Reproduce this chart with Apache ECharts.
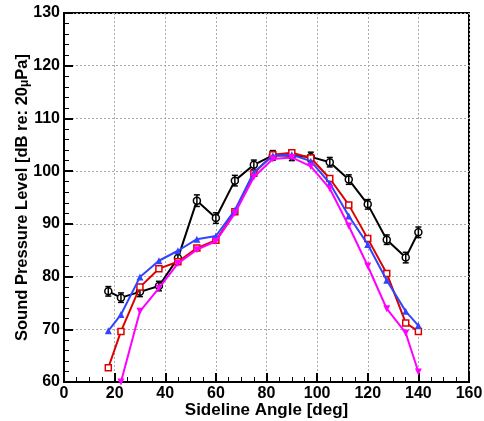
<!DOCTYPE html>
<html>
<head>
<meta charset="utf-8">
<script src="https://cdn.jsdelivr.net/npm/echarts@6/dist/echarts.min.js"></script>
<style>html,body{margin:0;padding:0;background:#fff}#c{width:484px;height:421px}</style>
</head>
<body>
<div id="c"></div>
<script>
var angles = [17.5, 22.5, 30, 37.5, 45, 52.5, 60, 67.5, 75, 82.5, 90, 97.5, 105, 112.5, 120, 127.5, 135, 140];
var blackSPL = [77.2, 76.0, 77.1, 78.2, 83.5, 94.4, 91.1, 98.2, 101.2, 103.0, 102.9, 102.7, 101.7, 98.4, 93.7, 87.0, 83.6, 88.4];
var blackErr = [0.9, 0.9, 0.9, 0.9, 0.9, 1.1, 1.0, 1.0, 0.9, 0.9, 0.9, 0.9, 0.9, 0.9, 0.9, 0.9, 1.0, 1.0];
var redSPL = [62.7, 69.6, 78.0, 81.5, 82.8, 85.4, 86.9, 92.3, 99.6, 103.1, 103.5, 102.5, 98.6, 93.6, 87.2, 80.6, 71.2, 69.6];
var blueSPL = [69.7, 72.8, 79.9, 83.0, 84.9, 87.1, 87.7, 92.6, 99.8, 102.9, 103.1, 101.9, 97.7, 91.5, 86.1, 79.3, 73.4, 70.7];
var magentaAngles = [22.5, 30, 37.5, 45, 52.5, 60, 67.5, 75, 82.5, 90, 97.5, 105, 112.5, 120, 127.5, 135, 140];
var magentaSPL = [60.0, 73.4, 77.8, 82.5, 85.1, 86.7, 92.0, 98.9, 102.3, 102.6, 100.9, 96.7, 89.6, 82.0, 73.9, 69.3, 61.9];

function pairs(xs, ys){ return xs.map(function(x,i){ return [x, ys[i]]; }); }

var chart = echarts.init(document.getElementById('c'), null, {renderer:'canvas'});
var font = 'Liberation Sans, Arial, sans-serif';
chart.setOption({
  animation: false,
  grid: {left: 64, top: 13, right: 15, bottom: 39, show: true, borderColor: '#000', borderWidth: 2, backgroundColor: 'transparent', outerBoundsMode: 'none', containLabel: false},
  xAxis: {
    type: 'value', min: 0, max: 160, interval: 20,
    name: 'Sideline Angle [deg]', nameLocation: 'middle', nameGap: 20, nameMoveOverlap: false,
    nameTextStyle: {fontFamily: font, fontWeight: 'bold', fontSize: 17, color: '#000'},
    axisLine: {show: true, onZero: false, lineStyle: {color: '#000', width: 2}},
    axisTick: {show: true, inside: true, length: 9, lineStyle: {color: '#000', width: 2}},
    minorTick: {show: true, splitNumber: 4, length: 5, lineStyle: {color: '#000', width: 1}},
    axisLabel: {fontFamily: font, fontWeight: 'bold', fontSize: 16, color: '#000', margin: 4},
    splitLine: {show: true, lineStyle: {color: '#aaa', type: [2, 2], width: 1}}
  },
  yAxis: {
    type: 'value', min: 60, max: 130, interval: 10,
    name: 'Sound Pressure Level [dB re: 20{mu|μ}Pa]', nameLocation: 'middle', nameGap: 33, nameRotate: 90, nameMoveOverlap: false,
    nameTextStyle: {fontFamily: font, fontWeight: 'bold', fontSize: 16.5, color: '#000', padding: [0, 0, 0, 0],
      rich: {mu: {fontFamily: font, fontWeight: 'bold', fontSize: 12, color: '#000', padding: [6, 0, 0, 0]}}},
    axisLine: {show: true, onZero: false, lineStyle: {color: '#000', width: 2}},
    axisTick: {show: true, inside: true, length: 9, lineStyle: {color: '#000', width: 2}},
    minorTick: {show: true, splitNumber: 5, length: 5, lineStyle: {color: '#000', width: 1}},
    axisLabel: {fontFamily: font, fontWeight: 'bold', fontSize: 16, color: '#000', margin: 4},
    splitLine: {show: true, lineStyle: {color: '#aaa', type: [2, 2], width: 1}}
  },
  series: [
    {
      type: 'line', name: 'black', data: pairs(angles, blackSPL), z: 3,
      lineStyle: {color: '#000', width: 2}, itemStyle: {color: '#fff', borderColor: '#000', borderWidth: 1.5},
      symbol: 'circle', symbolSize: 7
    },
    {
      type: 'custom', name: 'blackErr', z: 4,
      data: angles.map(function(a,i){ return [a, blackSPL[i] - blackErr[i], blackSPL[i] + blackErr[i]]; }),
      renderItem: function(params, api){
        var lo = api.coord([api.value(0), api.value(1)]);
        var hi = api.coord([api.value(0), api.value(2)]);
        var w = 3;
        var st = {stroke: '#000', lineWidth: 1.5};
        return {type: 'group', children: [
          {type: 'line', shape: {x1: lo[0], y1: lo[1], x2: hi[0], y2: hi[1]}, style: st},
          {type: 'line', shape: {x1: lo[0]-w, y1: lo[1], x2: lo[0]+w, y2: lo[1]}, style: st},
          {type: 'line', shape: {x1: hi[0]-w, y1: hi[1], x2: hi[0]+w, y2: hi[1]}, style: st}
        ]};
      }
    },
    {
      type: 'line', name: 'red', data: pairs(angles, redSPL), z: 5,
      lineStyle: {color: '#dd0000', width: 2}, itemStyle: {color: '#fff', borderColor: '#dd0000', borderWidth: 1.5},
      symbol: 'rect', symbolSize: 6
    },
    {
      type: 'line', name: 'blue', data: pairs(angles, blueSPL), z: 6,
      lineStyle: {color: '#3344ff', width: 2}, itemStyle: {color: '#3344ff'},
      symbol: 'triangle', symbolSize: 7
    },
    {
      type: 'line', name: 'magenta', data: pairs(magentaAngles, magentaSPL), z: 7,
      lineStyle: {color: '#ff00ff', width: 2}, itemStyle: {color: '#ff00ff'},
      symbol: 'triangle', symbolRotate: 180, symbolSize: 7
    }
  ]
});
</script>
</body>
</html>
